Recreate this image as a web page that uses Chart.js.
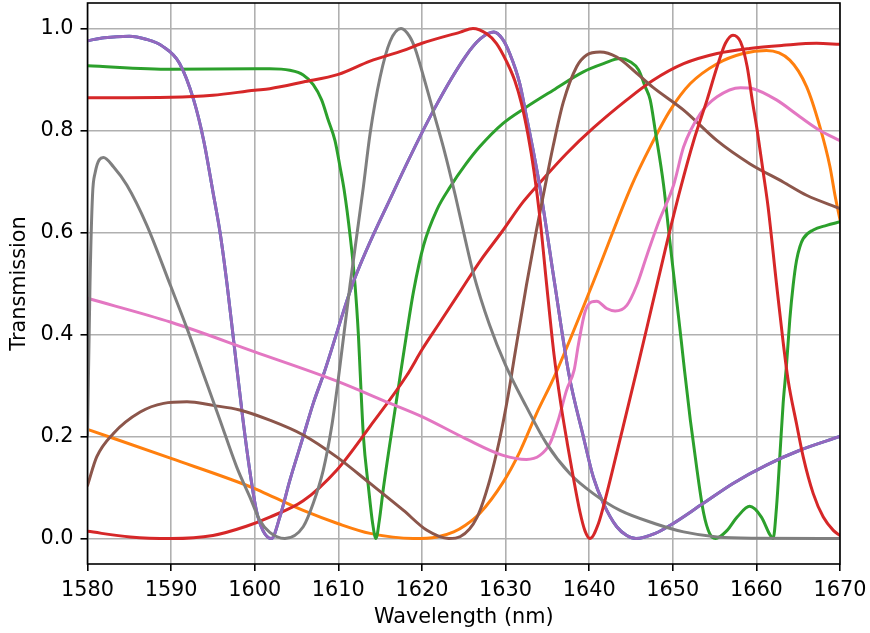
<!DOCTYPE html>
<html>
<head>
<meta charset="utf-8">
<script src="https://cdn.jsdelivr.net/npm/chart.js@4/dist/chart.umd.min.js"></script>
<style>
html,body{margin:0;padding:0;background:#fff;}
#wrap{width:870px;height:633px;position:relative;}
</style>
</head>
<body>
<div id="wrap"><canvas id="c" width="870" height="633"></canvas></div>
<script>
// ---- data (wavelength nm, transmission) ----
const xTicks = [1580,1590,1600,1610,1620,1630,1640,1650,1660,1670];
const yTicks = [0.0,0.2,0.4,0.6,0.8,1.0];

const purple = [[1580,0.976],[1582,0.982],[1585,0.985],[1587,0.979],[1589,0.965],[1591,0.932],[1592.7,0.86],[1593.9,0.78],[1595,0.68],[1595.9,0.595],[1596.7,0.497],[1597.5,0.385],[1598.6,0.232],[1599.4,0.134],[1600.2,0.055],[1601,0.015],[1602,0.0],[1603,0.042],[1604.2,0.114],[1605.8,0.2],[1607,0.265],[1608.3,0.325],[1611.8,0.503],[1616.4,0.673],[1621.4,0.84],[1625.2,0.945],[1627,0.98],[1628.6,0.993],[1629.6,0.98],[1630.5,0.951],[1631.7,0.892],[1632.5,0.827],[1633.3,0.761],[1634.2,0.68],[1635.9,0.497],[1637.6,0.32],[1639.3,0.2],[1640.5,0.12],[1641.7,0.069],[1643.3,0.023],[1644.5,0.006],[1645.6,0.0],[1647.9,0.01],[1649.7,0.026],[1653.3,0.065],[1657.2,0.108],[1661.2,0.144],[1665.2,0.173],[1670,0.2]];

const gray = [[1580,0.2],[1580.3,0.5],[1580.6,0.673],[1580.9,0.716],[1581.9,0.747],[1583.1,0.729],[1584.7,0.693],[1587.1,0.614],[1589.9,0.497],[1591.9,0.412],[1593.7,0.33],[1595.85,0.232],[1597.85,0.14],[1599.4,0.082],[1600.6,0.036],[1601.8,0.012],[1603.6,0.0],[1605.8,0.023],[1607,0.069],[1608.2,0.134],[1609.2,0.219],[1609.9,0.30],[1611.4,0.497],[1613,0.69],[1613.8,0.794],[1615,0.905],[1616.2,0.975],[1617.5,1.0],[1618.5,0.985],[1619.2,0.96],[1620.2,0.905],[1621.4,0.835],[1622.6,0.765],[1624,0.672],[1625.2,0.585],[1626.1,0.523],[1628.1,0.418],[1630,0.34],[1632.5,0.258],[1634.9,0.186],[1637.7,0.127],[1640.5,0.088],[1643.7,0.055],[1647.9,0.029],[1651.3,0.013],[1655.3,0.003],[1660,0.0005],[1670,0.0]];

const green = [[1580,0.927],[1590,0.92],[1600,0.921],[1601.8,0.921],[1604.2,0.918],[1605.8,0.909],[1607,0.89],[1608,0.86],[1608.8,0.82],[1609.6,0.78],[1610.2,0.729],[1610.7,0.683],[1611.4,0.595],[1612,0.497],[1612.4,0.399],[1612.6,0.33],[1613,0.2],[1613.6,0.101],[1614.1,0.03],[1614.5,0.0],[1614.9,0.035],[1615.4,0.1],[1616.2,0.19],[1616.9,0.265],[1617.5,0.33],[1618.2,0.405],[1619,0.485],[1620.2,0.575],[1621.8,0.645],[1623.4,0.69],[1625.2,0.733],[1626.9,0.768],[1629.7,0.814],[1632.5,0.846],[1635.7,0.879],[1639.3,0.915],[1641.7,0.931],[1643.7,0.941],[1644.9,0.935],[1645.9,0.919],[1646.7,0.886],[1647.3,0.86],[1647.9,0.80],[1648.9,0.693],[1649.6,0.59],[1650.3,0.49],[1651,0.39],[1651.4,0.33],[1652.1,0.232],[1652.9,0.134],[1653.7,0.049],[1654.4,0.01],[1655.1,0.0],[1656.5,0.016],[1657.7,0.042],[1659.2,0.063],[1660.6,0.042],[1661.6,0.008],[1662,0.0],[1662.4,0.06],[1662.8,0.16],[1663.2,0.265],[1663.6,0.34],[1664,0.43],[1664.4,0.497],[1664.8,0.545],[1665.2,0.572],[1665.6,0.588],[1666.8,0.605],[1668.4,0.614],[1670,0.621]];

const orange = [[1580,0.214],[1590,0.157],[1600,0.098],[1602.4,0.08],[1605.8,0.055],[1610,0.029],[1613.8,0.01],[1619,0.0],[1621.8,0.003],[1623.8,0.013],[1625.2,0.026],[1626.9,0.049],[1629.7,0.11],[1631.7,0.17],[1633.7,0.245],[1635.9,0.32],[1640.5,0.503],[1645.1,0.693],[1647.3,0.768],[1649.7,0.84],[1652.1,0.892],[1655.3,0.931],[1658.4,0.951],[1661.2,0.957],[1664,0.938],[1666,0.886],[1667.6,0.807],[1668.8,0.729],[1669.4,0.673],[1670,0.625]];

const brown = [[1580,0.104],[1581.1,0.16],[1583.1,0.206],[1586.3,0.248],[1589.1,0.265],[1591.9,0.268],[1595,0.261],[1598.2,0.252],[1601.8,0.232],[1605.8,0.203],[1609.8,0.16],[1613.8,0.108],[1617.8,0.055],[1620.6,0.016],[1623.2,0.0],[1624.6,0.004],[1626.6,0.042],[1628.1,0.114],[1629.3,0.195],[1630.3,0.28],[1631.1,0.36],[1632.5,0.497],[1633.7,0.605],[1634.6,0.68],[1635.7,0.77],[1636.9,0.855],[1638.5,0.925],[1639.7,0.948],[1641.3,0.954],[1643.3,0.944],[1645.7,0.912],[1647.6,0.885],[1651.3,0.84],[1655.3,0.78],[1659.2,0.735],[1663.2,0.699],[1666,0.673],[1670,0.647]];

const pink = [[1580,0.471],[1590,0.424],[1600,0.366],[1609.6,0.31],[1616.2,0.265],[1620,0.239],[1625.2,0.196],[1629.7,0.163],[1632.5,0.155],[1634.1,0.163],[1635.3,0.186],[1636.3,0.232],[1637.3,0.291],[1638.2,0.33],[1638.7,0.379],[1639.5,0.444],[1640.3,0.464],[1640.9,0.465],[1642.1,0.451],[1643.1,0.446],[1644.5,0.457],[1645.7,0.497],[1646.9,0.555],[1648.3,0.62],[1650.1,0.693],[1651.3,0.768],[1653.3,0.833],[1655.3,0.866],[1658.1,0.884],[1659.6,0.882],[1662.4,0.86],[1665.2,0.827],[1667.6,0.80],[1670,0.78]];

const redA = [[1580,0.864],[1590,0.865],[1595,0.869],[1600,0.879],[1601.8,0.882],[1605.8,0.895],[1610,0.91],[1613.8,0.936],[1617.8,0.957],[1620,0.971],[1624.6,0.993],[1626.1,1.0],[1627.7,0.99],[1628.9,0.971],[1630.1,0.936],[1631.1,0.898],[1631.9,0.853],[1632.7,0.79],[1633.4,0.72],[1634.1,0.63],[1634.9,0.50],[1635.8,0.36],[1636.6,0.265],[1637.4,0.185],[1638.1,0.12],[1638.9,0.052],[1639.5,0.015],[1640.1,0.0],[1641.1,0.029],[1642.1,0.088],[1643.7,0.195],[1645.7,0.33],[1647.5,0.455],[1649.3,0.58],[1650.9,0.685],[1652.5,0.78],[1654.1,0.86],[1655.3,0.925],[1656.3,0.971],[1657.2,0.987],[1658.1,0.974],[1658.9,0.925],[1659.5,0.86],[1660.1,0.80],[1660.8,0.72],[1661.4,0.65],[1662.4,0.50],[1663.2,0.385],[1663.8,0.31],[1664.8,0.225],[1665.6,0.16],[1666.8,0.088],[1668,0.042],[1669.2,0.016],[1670,0.006]];

const redB = [[1580,0.014],[1585.1,0.003],[1590,0.0],[1595,0.006],[1599,0.024],[1601.8,0.042],[1605.8,0.074],[1609.8,0.134],[1613.8,0.22],[1618.2,0.32],[1620,0.37],[1622,0.42],[1624.6,0.485],[1627,0.545],[1629.5,0.6],[1632.1,0.66],[1634.5,0.705],[1637.3,0.755],[1640.5,0.805],[1644.5,0.86],[1647.6,0.898],[1651.3,0.931],[1655.3,0.951],[1659.2,0.961],[1663.2,0.967],[1667.2,0.971],[1670,0.969]];

// drawing order (matplotlib: later on top)
const seriesList = [
  {name:'blue',   pts:purple, color:'#1f77b4'},
  {name:'orange', pts:orange, color:'#ff7f0e'},
  {name:'green',  pts:green,  color:'#2ca02c'},
  {name:'red',    pts:redB,   color:'#d62728'},
  {name:'purple', pts:purple, color:'#9467bd'},
  {name:'brown',  pts:brown,  color:'#8c564b'},
  {name:'pink',   pts:pink,   color:'#e377c2'},
  {name:'gray',   pts:gray,   color:'#7f7f7f'},
  {name:'red2',   pts:redA,   color:'#d62728'}
];

const FONT = 'DejaVu Sans';
const FS = 20.8;
const PLOT = {left:87.5, right:840, top:3, bottom:564};

const datasets = seriesList.map((s,i)=>({
  label:s.name,
  data:s.pts.map(p=>({x:p[0],y:p[1]})),
  borderColor:s.color,
  backgroundColor:s.color,
  borderWidth:3,
  pointRadius:0,
  showLine:true,
  fill:false,
  cubicInterpolationMode:'monotone',
  order: seriesList.length - i
}));

const framePlugin = {
  id:'frame',
  afterDatasetsDraw(chart){
    const a = chart.chartArea, ctx = chart.ctx;
    ctx.save();
    ctx.strokeStyle = '#000';
    ctx.lineWidth = 1.6;
    ctx.strokeRect(a.left, a.top, a.right-a.left, a.bottom-a.top);
    ctx.restore();
  }
};

function zeroPad(s){ s.paddingTop=0; s.paddingBottom=0; s.paddingLeft=0; s.paddingRight=0; }

new Chart(document.getElementById('c'), {
  type:'scatter',
  data:{datasets},
  plugins:[framePlugin],
  options:{
    responsive:false,
    animation:false,
    devicePixelRatio:1,
    layout:{padding:{left:0,right:870-PLOT.right,top:PLOT.top,bottom:0}},
    plugins:{legend:{display:false},tooltip:{enabled:false}},
    elements:{line:{borderCapStyle:'round',borderJoinStyle:'round'}},
    scales:{
      x:{
        type:'linear', min:1580, max:1670,
        afterFit(s){ s.height = 633 - PLOT.bottom; zeroPad(s); },
        afterBuildTicks(s){ s.ticks = xTicks.map(v=>({value:v})); },
        ticks:{color:'#000', font:{family:FONT,size:FS}, padding:7, maxRotation:0,
          callback:v=>String(v)},
        grid:{color:'#b0b0b0', lineWidth:1.6, tickColor:'#000', tickLength:7, tickWidth:1.6, drawOnChartArea:true},
        border:{display:false},
        title:{display:true, text:'Wavelength (nm)', color:'#000', font:{family:FONT,size:FS}, padding:{top:0,bottom:3}}
      },
      y:{
        type:'linear', min:-0.05, max:1.05,
        afterFit(s){ s.width = PLOT.left; zeroPad(s); },
        afterBuildTicks(s){ s.ticks = yTicks.map(v=>({value:v})); },
        ticks:{color:'#000', font:{family:FONT,size:FS}, padding:7,
          callback:v=>Number(v).toFixed(1)},
        grid:{color:'#b0b0b0', lineWidth:1.6, tickColor:'#000', tickLength:7, tickWidth:1.6},
        border:{display:false},
        title:{display:true, text:'Transmission', color:'#000', font:{family:FONT,size:FS}, padding:{top:7,bottom:0}}
      }
    }
  }
});
</script>
</body>
</html>
